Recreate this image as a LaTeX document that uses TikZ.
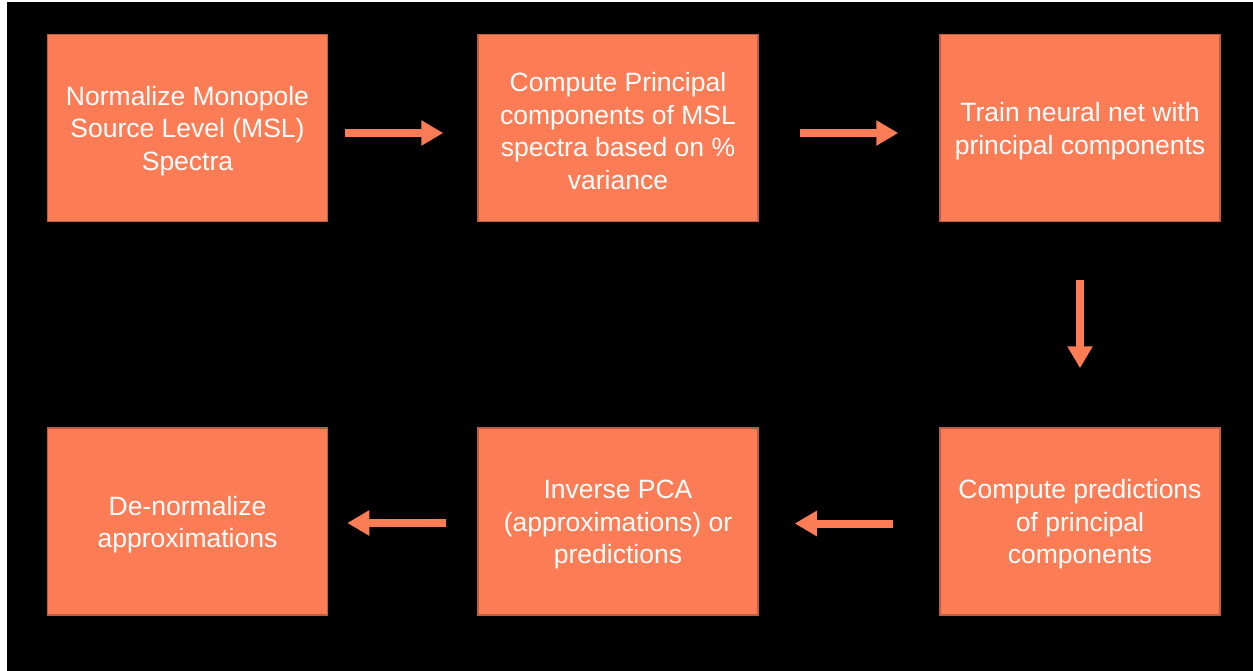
\documentclass[tikz,border=0pt]{standalone}
\usepackage{fontspec}
\setmainfont{Liberation Sans}
\usetikzlibrary{arrows.meta,calc}
\definecolor{coral}{HTML}{FC7C56}
\definecolor{coraledge}{HTML}{BE5E3E}
\tikzset{
  stepbox/.style={draw=coraledge, line width=1.5pt, fill=coral, minimum width=280pt, minimum height=187pt,
    text=white, align=center, inner sep=0pt, font=\fontsize{26.5}{32.5}\selectfont},
  steptext/.style={text=white, align=center, inner sep=0pt, font=\fontsize{26.5}{32.5}\selectfont},
  flow/.style={draw=coral, line width=8pt, -{Triangle[length=22pt,width=24pt]}}
}
\begin{document}
\begin{tikzpicture}[x=1pt,y=-1pt]
\useasboundingbox (0,0) rectangle (1253,671);
\fill[white] (0,0) rectangle (1253,671);
\fill[black] (7,2) rectangle (1253,671);
\node[stepbox] (b1) at (187.5,128) {};
\node[stepbox] (b2) at (618,128) {};
\node[stepbox] (b3) at (1080,128) {};
\node[stepbox] (b4) at (187.5,521.5) {};
\node[stepbox] (b5) at (618,521.5) {};
\node[stepbox] (b6) at (1080,521.5) {};
\node[steptext] (t1) at ($(b1.center)+(0,3)$) {Normalize Monopole\\Source Level (MSL)\\Spectra};
\node[steptext] (t2) at ($(b2.center)+(0,3)$) {Compute Principal\\components of MSL\\spectra based on \%\\variance};
\node[steptext] (t3) at ($(b3.center)+(0,3)$) {Train neural net with\\principal components};
\node[steptext] (t4) at ($(b4.center)+(0,3)$) {De-normalize\\approximations};
\node[steptext] (t5) at ($(b5.center)+(0,3)$) {Inverse PCA\\(approximations) or\\predictions};
\node[steptext] (t6) at ($(b6.center)+(0,3)$) {Compute predictions\\of principal\\components};
\draw[flow] ($(b1.east)+(17,5)$) -- ($(b2.west)+(-34,5)$);
\draw[flow] ($(b2.east)+(41,5)$) -- ($(b3.west)+(-41,5)$);
\draw[flow] ($(b3.south)+(0,58)$) -- ($(b6.north)+(0,-59)$);
\draw[flow] ($(b6.west)+(-46,2)$) -- ($(b5.east)+(36,2)$);
\draw[flow] ($(b5.west)+(-31,1.5)$) -- ($(b4.east)+(19,1.5)$);
\end{tikzpicture}
\end{document}
